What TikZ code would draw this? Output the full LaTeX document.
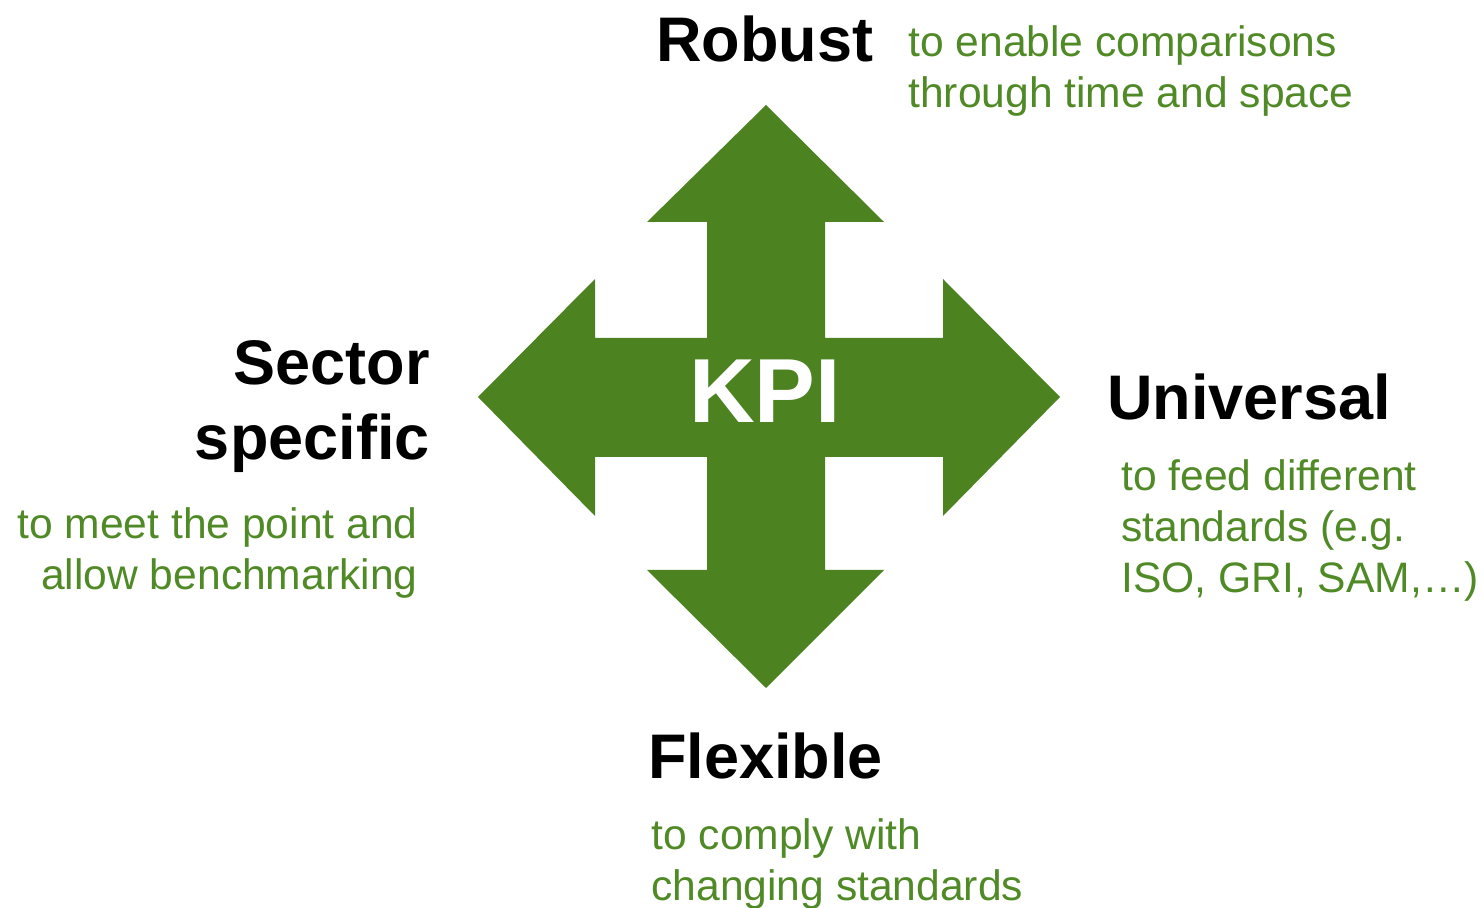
\documentclass[tikz,border=0pt]{standalone}
\usepackage{fontspec}
\setmainfont{Liberation Sans}
\usetikzlibrary{positioning}
\definecolor{kpigreen}{RGB}{77,130,33}
\definecolor{notegreen}{RGB}{80,138,38}
\tikzset{
  heading/.style={font=\bfseries\fontsize{31.5}{37.5}\selectfont,inner sep=0pt},
  note/.style={font=\fontsize{21.3}{25.5}\selectfont,text=notegreen,inner sep=0pt},
}

\begin{document}
\begin{tikzpicture}[x=0.5pt,y=-0.5pt]
\useasboundingbox (0,0) rectangle (1484,908);
% Four-headed arrow
\fill[kpigreen] (766,105) -- (884,222) -- (825,222) -- (825,338) -- (943,338) -- (943,279)
  -- (1060,397) -- (943,516) -- (943,457) -- (825,457) -- (825,570) -- (884,570)
  -- (766,688) -- (647,570) -- (707,570) -- (707,457) -- (595,457) -- (595,516)
  -- (478,397) -- (595,279) -- (595,338) -- (707,338) -- (707,222) -- (647,222) -- cycle;
\node[anchor=base,inner sep=0pt,text=white,font=\bfseries\fontsize{45.5}{54}\selectfont] (kpi) at (765,423) {KPI};
% Headings
\node[heading,anchor=base west] (robust) at (656,62) {Robust};
\node[heading,anchor=base east,align=right] (sector) at (430,460) {Sector\\specific};
\node[heading,anchor=base west] (universal) at (1107,420) {Universal};
\node[heading,anchor=base west] (flexible) at (648,778) {Flexible};
% Notes (base = last line)
\node[note,anchor=base west,align=left] (robustnote) at (908,108) {to enable comparisons\\through time and space};
\node[note,anchor=base east,align=right] (sectornote) at (418,590) {to meet the point and\\allow benchmarking};
\node[note,anchor=base west,align=left] (universalnote) at (1121,593) {to feed different\\standards (e.g.\\ISO, GRI, SAM,\dots)};
\node[note,anchor=base west,align=left] (flexiblenote) at (651,900) {to comply with\\changing standards};
\end{tikzpicture}
\end{document}
